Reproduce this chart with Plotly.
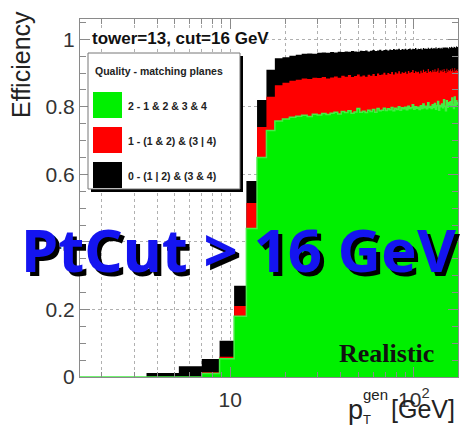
import math
import plotly.graph_objects as go

# ---- histogram binning: 100 bins of 1.75 GeV from 0 to 175 GeV ----
BIN_WIDTH = 1.75
N_BINS = 100
X_LO, X_HI = 1.52, 174.0          # visible pT window on the log axis

# Efficiency per pT bin (bin 0 = 0-1.75 GeV ... bin 99 = 173.25-175 GeV)
# black: any quality (total), red: quality >= 1, green: quality 2
eff_any = [
    0.000, 0.000, 0.012, 0.032, 0.053, 0.107, 0.270, 0.580, 0.820, 0.910,
    0.944, 0.947, 0.951, 0.954, 0.957, 0.958, 0.957, 0.960, 0.961, 0.960,
    0.962, 0.961, 0.963, 0.962, 0.964, 0.963, 0.965, 0.964, 0.963, 0.966,
    0.965, 0.967, 0.964, 0.966, 0.968, 0.965, 0.967, 0.969, 0.966, 0.968,
    0.969, 0.967, 0.970, 0.968, 0.971, 0.969, 0.970, 0.972, 0.968, 0.971,
    0.970, 0.972, 0.969, 0.971, 0.973, 0.970, 0.972, 0.971, 0.974, 0.970,
    0.972, 0.971, 0.973, 0.970, 0.974, 0.972, 0.973, 0.971, 0.975, 0.972,
    0.973, 0.975, 0.972, 0.974, 0.973, 0.976, 0.972, 0.974, 0.975, 0.973,
    0.975, 0.973, 0.976, 0.974, 0.977, 0.974, 0.976, 0.975, 0.973, 0.977,
    0.975, 0.978, 0.976, 0.974, 0.978, 0.977, 0.975, 0.979, 0.977, 0.978,
]
eff_q1 = [
    0.000, 0.000, 0.000, 0.000, 0.014, 0.060, 0.210, 0.515, 0.740, 0.830,
    0.864, 0.871, 0.877, 0.880, 0.884, 0.882, 0.886, 0.885, 0.888, 0.884,
    0.887, 0.890, 0.886, 0.892, 0.889, 0.894, 0.888, 0.891, 0.896, 0.890,
    0.893, 0.889, 0.895, 0.892, 0.897, 0.891, 0.899, 0.894, 0.896, 0.901,
    0.895, 0.900, 0.897, 0.903, 0.896, 0.902, 0.899, 0.905, 0.898, 0.902,
    0.900, 0.904, 0.898, 0.906, 0.901, 0.903, 0.909, 0.900, 0.905, 0.902,
    0.904, 0.899, 0.907, 0.901, 0.910, 0.903, 0.906, 0.900, 0.912, 0.904,
    0.906, 0.902, 0.909, 0.904, 0.911, 0.903, 0.907, 0.914, 0.901, 0.908,
    0.905, 0.910, 0.903, 0.912, 0.906, 0.900, 0.913, 0.904, 0.909, 0.907,
    0.911, 0.905, 0.914, 0.908, 0.903, 0.915, 0.907, 0.910, 0.906, 0.912,
]
eff_q2 = [
    0.000, 0.000, 0.000, 0.000, 0.010, 0.054, 0.180, 0.440, 0.650, 0.730,
    0.758, 0.764, 0.769, 0.772, 0.775, 0.771, 0.778, 0.776, 0.780, 0.777,
    0.781, 0.784, 0.779, 0.786, 0.783, 0.788, 0.781, 0.785, 0.795, 0.784,
    0.787, 0.783, 0.790, 0.786, 0.792, 0.784, 0.795, 0.788, 0.790, 0.796,
    0.789, 0.794, 0.791, 0.798, 0.788, 0.796, 0.792, 0.800, 0.790, 0.797,
    0.794, 0.799, 0.791, 0.802, 0.795, 0.797, 0.806, 0.793, 0.800, 0.796,
    0.799, 0.792, 0.803, 0.795, 0.808, 0.797, 0.802, 0.794, 0.812, 0.798,
    0.801, 0.795, 0.806, 0.798, 0.810, 0.793, 0.803, 0.816, 0.790, 0.804,
    0.800, 0.808, 0.797, 0.821, 0.802, 0.788, 0.818, 0.799, 0.812, 0.805,
    0.815, 0.801, 0.826, 0.806, 0.795, 0.829, 0.804, 0.818, 0.808, 0.812,
]

legend_labels = ["2 - 1 & 2 & 3 & 4", "1 - (1 & 2) & (3 | 4)", "0 - (1 | 2) & (3 & 4)"]
legend_colors = ["#00f000", "#ff0000", "#000000"]

y_tick_vals = [0, 0.2, 0.4, 0.6, 0.8, 1.0]
y_tick_text = ["0", "0.2", "0.4", "0.6", "0.8", "1"]
x_tick_vals = [10, 100]
x_tick_text = ["10", "10<sup>2</sup>"]
x_minor_vals = [2, 3, 4, 5, 6, 7, 8, 9, 20, 30, 40, 50, 60, 70, 80, 90]

# bin edges; the first (0 GeV) edge is clipped to the log-axis lower bound
edges = [BIN_WIDTH * k for k in range(N_BINS + 1)]
edges[0] = X_LO


def step_trace(values, color, line_width=0, line_color=None):
    return go.Scatter(
        x=edges,
        y=list(values) + [values[-1]],
        mode="lines",
        line=dict(shape="hv", width=line_width, color=line_color or color),
        fill="tozeroy",
        fillcolor=color,
        hoverinfo="skip",
    )


fig = go.Figure()
fig.add_trace(step_trace(eff_any, "#000000"))
fig.add_trace(step_trace(eff_q1, "#ff0000"))
fig.add_trace(step_trace(eff_q2, "#00f000", line_width=1.5, line_color="#44ee44"))

# ---- page geometry (pixels) ----
W, H = 461, 426
PL, PR, PT, PB = 80, 458, 19, 377


def fx(px):
    return (px - PL) / (PR - PL)


def fy(py):
    return (PB - py) / (PB - PT)


shapes = []
annotations = []

# title box
shapes.append(dict(type="rect", xref="paper", yref="paper",
                   x0=fx(90), x1=fx(266), y0=fy(48), y1=fy(30),
                   fillcolor="white", line=dict(width=0), layer="above"))
annotations.append(dict(text="<b>tower=13, cut=16 GeV</b>", xref="paper", yref="paper",
                        x=fx(90), y=fy(38), xanchor="left", yanchor="middle",
                        showarrow=False,
                        font=dict(family="Liberation Sans", size=17, color="#111")))

# legend box with drop shadow
LX0, LX1, LY0, LY1 = 88, 240, 53, 189
shapes.append(dict(type="rect", xref="paper", yref="paper",
                   x0=fx(LX0 + 3), x1=fx(LX1 + 3), y0=fy(LY1 + 3), y1=fy(LY0 + 3),
                   fillcolor="black", line=dict(width=0), layer="above"))
shapes.append(dict(type="rect", xref="paper", yref="paper",
                   x0=fx(LX0), x1=fx(LX1), y0=fy(LY1), y1=fy(LY0),
                   fillcolor="white", line=dict(width=1, color="#777"), layer="above"))
annotations.append(dict(text="<b>Quality - matching planes</b>", xref="paper", yref="paper",
                        x=fx(93), y=fy(71), xanchor="left", yanchor="middle",
                        showarrow=False,
                        font=dict(family="Liberation Sans", size=10.5, color="#222")))
row_centers = [105, 140, 175]
for label, color, yc in zip(legend_labels, legend_colors, row_centers):
    shapes.append(dict(type="rect", xref="paper", yref="paper",
                       x0=fx(93), x1=fx(122), y0=fy(yc + 13), y1=fy(yc - 13),
                       fillcolor=color, line=dict(width=0), layer="above"))
    annotations.append(dict(text="<b>" + label.replace("&", "&amp;") + "</b>",
                            xref="paper", yref="paper",
                            x=fx(126), y=fy(yc + 1), xanchor="left", yanchor="middle",
                            showarrow=False,
                            font=dict(family="Liberation Sans", size=10.5, color="#222")))

# axis titles
annotations.append(dict(text="Efficiency", xref="paper", yref="paper",
                        x=fx(21), y=fy(65), xanchor="center", yanchor="middle",
                        textangle=-90, showarrow=False,
                        font=dict(family="Liberation Sans", size=25, color="#222")))
annotations.append(dict(text="p", xref="paper", yref="paper",
                        x=fx(355), y=fy(410), xanchor="center", yanchor="middle",
                        showarrow=False,
                        font=dict(family="Liberation Sans", size=27, color="#222")))
annotations.append(dict(text="gen", xref="paper", yref="paper",
                        x=fx(361), y=fy(394), xanchor="left", yanchor="middle",
                        showarrow=False,
                        font=dict(family="Liberation Sans", size=15, color="#222")))
annotations.append(dict(text="T", xref="paper", yref="paper",
                        x=fx(361), y=fy(419), xanchor="left", yanchor="middle",
                        showarrow=False,
                        font=dict(family="Liberation Sans", size=13, color="#222")))
annotations.append(dict(text="[GeV]", xref="paper", yref="paper",
                        x=fx(389), y=fy(409), xanchor="left", yanchor="middle",
                        showarrow=False,
                        font=dict(family="Liberation Sans", size=25, color="#222")))

# "Realistic" tag
annotations.append(dict(text="<b>Realistic</b>", xref="paper", yref="paper",
                        x=fx(386), y=fy(353), xanchor="center", yanchor="middle",
                        showarrow=False,
                        font=dict(family="Liberation Serif", size=26, color="#111")))

# big overlay text with drop shadow
banner = "PtCut &gt; 16 GeV"
for shift, color in ((4, "#000000"), (0, "#1414f0")):
    annotations.append(dict(text="<b>" + banner + "</b>", xref="paper", yref="paper",
                            x=fx(238), y=fy(249), xanchor="center", yanchor="middle",
                            xshift=shift, yshift=-shift, showarrow=False,
                            font=dict(family="Noto Sans", size=60, color=color)))

axis_common = dict(
    showline=True, linecolor="#8a8a8a", linewidth=1, mirror="allticks",
    ticks="inside", ticklen=10, tickcolor="#8a8a8a", tickwidth=1,
    showgrid=True, gridcolor="#b0b0b0", griddash="dot", gridwidth=1,
    zeroline=False,
    tickfont=dict(family="Liberation Sans", size=21, color="#333"),
)

fig.update_xaxes(
    type="log", range=[math.log10(X_LO), math.log10(X_HI)],
    tickmode="array", tickvals=x_tick_vals, ticktext=x_tick_text,
    ticklabelstandoff=4,
    minor=dict(tickmode="array", tickvals=x_minor_vals, ticks="inside", ticklen=5,
               tickcolor="#8a8a8a", showgrid=True, gridcolor="#b0b0b0", griddash="dot"),
    **axis_common,
)
fig.update_yaxes(
    range=[0, 1.06],
    tickmode="array", tickvals=y_tick_vals, ticktext=y_tick_text,
    minor=dict(dtick=0.05, ticks="inside", ticklen=6, tickcolor="#8a8a8a", showgrid=False),
    **axis_common,
)

fig.update_layout(
    width=W, height=H,
    margin=dict(l=PL, r=W - PR, t=PT, b=H - PB),
    plot_bgcolor="white", paper_bgcolor="white",
    showlegend=False,
    shapes=shapes, annotations=annotations,
)

fig.write_html("out.html")
